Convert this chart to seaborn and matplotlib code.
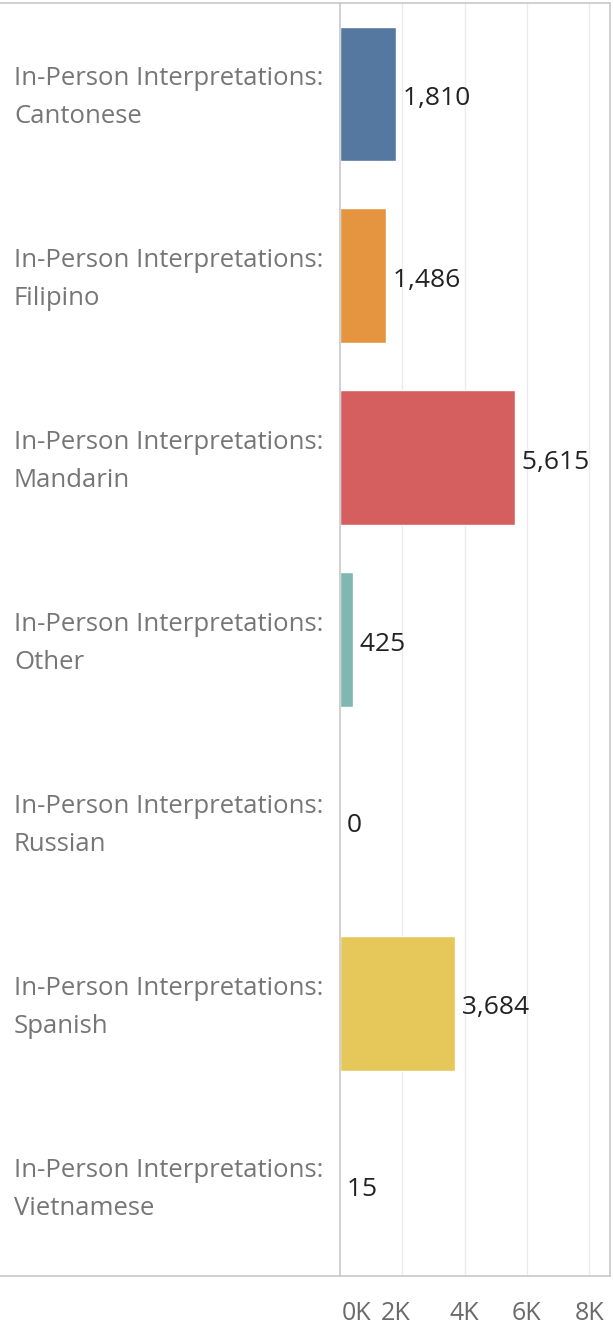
import matplotlib
matplotlib.use('Agg')
import matplotlib.pyplot as plt
import matplotlib.transforms as mtransforms
from matplotlib.lines import Line2D
import seaborn as sns
import pandas as pd

# Datos
categorias = ['Cantonese', 'Filipino', 'Mandarin', 'Other', 'Russian', 'Spanish', 'Vietnamese']
valores = [1810, 1486, 5615, 425, 0, 3684, 15]
colores = ['#54789f', '#e5943f', '#d55f5f', '#7fb8b2', '#59a14f', '#e6c85a', '#b07aa1']
ticks_x = [0, 2000, 4000, 6000, 8000]
etiquetas_x = ['0K', '2K', '4K', '6K', '8K']

df = pd.DataFrame({'categoria': categorias, 'valor': valores})

sns.set_style('white')
plt.rcParams['font.family'] = ['Open Sans', 'DejaVu Sans']

fig = plt.figure(figsize=(6.13, 13.31), dpi=100)
W, H = 613, 1331
ax = fig.add_axes([340 / W, 1 - 1276 / H, 270 / W, 1273 / H])

sns.barplot(data=df, y='categoria', x='valor', hue='categoria', palette=colores,
            legend=False, width=0.74, saturation=1, ax=ax, orient='h')

ax.set_xlim(0, 8670)
ax.set_ylim(6.5, -0.5)
ax.set_xticks(ticks_x)
ax.set_xticklabels(etiquetas_x, fontsize=18, color='#6a6a6a')
ax.tick_params(axis='x', length=0, pad=18)
ax.set_yticks([])
ax.set_xlabel('')
ax.set_ylabel('')

# El 0K está alineado a la izquierda y el 2K un poco desplazado, como en el original
tl = ax.get_xticklabels()
tl[0].set_horizontalalignment('left')
tl[0].set_transform(tl[0].get_transform() + mtransforms.ScaledTranslation(2 / 100, 0, fig.dpi_scale_trans))
tl[1].set_transform(tl[1].get_transform() + mtransforms.ScaledTranslation(-6.5 / 100, 0, fig.dpi_scale_trans))

for x in ticks_x[1:]:
    ax.axvline(x, color='#ebebeb', lw=1, zorder=0)

for lado in ['top', 'right', 'bottom']:
    ax.spines[lado].set_visible(False)
ax.spines['left'].set_color('#c8c8c8')
ax.spines['left'].set_linewidth(1.2)

# Marco exterior (línea superior, inferior y derecha a lo ancho de la figura)
fig.add_artist(Line2D([0, 610 / W], [1 - 3 / H, 1 - 3 / H], color='#c8c8c8', lw=1.2))
fig.add_artist(Line2D([0, 610 / W], [1 - 1276 / H, 1 - 1276 / H], color='#c8c8c8', lw=1.2))
fig.add_artist(Line2D([610 / W, 610 / W], [1 - 1276 / H, 1 - 3 / H], color='#c8c8c8', lw=1.2))

# Etiquetas de categoría a la izquierda
trans = mtransforms.blended_transform_factory(fig.transFigure, ax.transData)
for i, cat in enumerate(categorias):
    ax.text(14 / W, i + 0.022, 'In-Person Interpretations:\n' + cat, transform=trans,
            ha='left', va='center', fontsize=18.5, color='#767676', linespacing=1.68)

# Valores al final de cada barra
for i, v in enumerate(valores):
    ax.text(v, i + 0.025, f' {v:,}', ha='left', va='center', fontsize=19, color='#222222')

fig.savefig('out.png', dpi=100)
